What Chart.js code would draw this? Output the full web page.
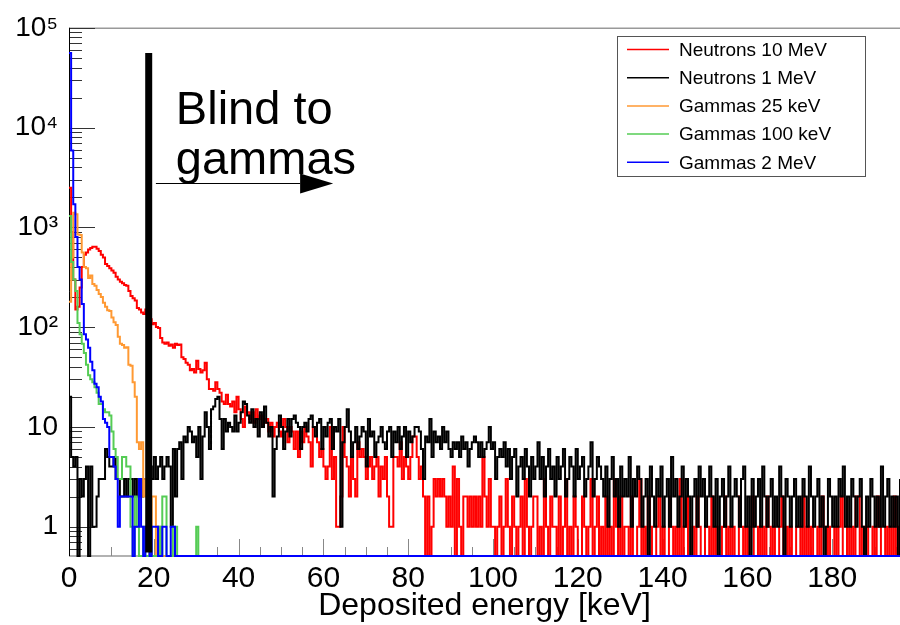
<!DOCTYPE html>
<html>
<head>
<meta charset="utf-8">
<script src="https://cdn.jsdelivr.net/npm/chart.js@4.4.1/dist/chart.umd.min.js"></script>
<style>
html,body{margin:0;padding:0;background:#fff;}
#wrap{width:900px;height:625px;position:relative;}
</style>
</head>
<body>
<div id="wrap"><canvas id="c" width="900" height="625"></canvas></div>
<script>
// ---------------- DATA ----------------
const BIN_WIDTH = 0.5;            // keV per histogram bin (bins start at 0 keV)
const X_MAX = 196;                // keV, right edge of the frame
const Y_MIN = 0.508, Y_MAX = 1e5; // counts
const xTickStep = 20;
const yTickValues = [1, 10, 100, 1000, 10000, 100000];
const yTickLabels = ['1', '10', '10²', '10³', '10⁴', '10⁵'];
const xAxisTitle = 'Deposited energy [keV]';
const seriesNames = ['Neutrons 10 MeV', 'Neutrons 1 MeV', 'Gammas 25 keV', 'Gammas 100 keV', 'Gammas 2 MeV'];
const seriesColors = ['#ff0000', '#000000', '#ff9933', '#55cc55', '#0000ff'];

const neutrons10MeV = [
 2500,900,300,150,160,250,400,530,560,600,
 620,640,640,610,580,530,500,430,410,390,
 370,350,320,300,285,275,265,260,230,205,
 195,185,155,150,140,135,150,130,120,107,
 110,100,98,78,70,68,70,65,67,62,
 68,66,67,50,48,44,42,37,38,35,
 46,38,35,37,44,30,24,24,23,28,
 24,22,18,17,21,17,16,18,14,20,
 15,12,10,16,14,12,14,11,15,12,
 13,10,11,12,9,11,8,10,11,9,
 8,12,10,7,10,9,6,9,5,
 9,7,10,8,7,4,10,10,7,5,
 6,4,3,4,10,3,5,1,1,2,
 10,5,4,2,5,3,2,7,5,6,
 5,3,4,5,3,4,5,2,4,3,
 5,2,1,1,5,5,4,7,3,5,
 4,3,5,8,8,5,3,4,2,0,
 2,0,1,3,2,3,2,3,2,1,
 2,1,4,0,3,1,0,2,2,1,
 2,1,2,1,2,1,5,2,1,3,
 1,1,0,1,
 2,0,1,3,1,0,2,1,0,1,
 2,0,3,1,0,1,2,2,0,1,
 0,3,1,0,2,1,1,0,2,0,
 1,3,0,1,0,2,1,0,0,2,
 1,0,1,3,0,1,2,0,
 1,0,2,0,1,0,3,1,0,2,0,1,1,0,2,
 0,0,1,3,0,1,0,2,1,0,0,1,2,0,1,
 0,0,2,1,0,1,0,3,0,1,2,0,0,1,0,
 2,1,0,0,1,1,0,2,0,1,0,0,1,2,0,
 1,0,1,0,0,2,1,0,1,0,1,2,0,0,1,
 0,1,0,2,1,0,1,0,0,1,2,0,1,0,1,
 0,0,1,1,0,2,0,1,0,1,0,0,1,0,2,
 1,0,1,0,0,1,0,1,2,0,0,1,0,1,0,
 2,2,0,1,0,1,0,0,1,0,2,1,0,0,1,
 0,1,0,2,0,1,1,0,2,1,0,1,0,2,0
];

const neutrons1MeV = [
 20,5,4,5,0,3,2,3,4,0,
 4,1,1,2,3,3,3,6,5,4,
 4,5,3,3,2,2,3,2,3,3,
 2,3,2,3,2,3,3,2,4,3,
 5,3,4,5,3,4,5,4,1,6,
 2,6,7,3,8,7,10,9,7,8,
 5,10,3,8,14,10,6,15,16,19,
 20,12,6,12,9,11,10,9,13,9,
 11,14,18,17,13,11,15,10,12,8,
 14,10,16,11,8,10,2,6,8,13,
 10,6,9,12,8,12,13,11,10,6,
 10,11,9,12,13,10,8,11,12,6,
 10,8,11,12,6,10,9,12,1,7,
 10,15,9,5,7,10,6,8,10,9,
 4,12,8,9,5,7,8,10,7,6,
 9,10,5,9,7,10,6,8,10,5,
 9,7,8,10,10,9,6,3,8,7,
 12,5,9,7,8,6,10,7,9,6,
 5,7,6,7,5,8,6,7,4,6,
 7,8,7,5,7,5,6,7,10,6,
 7,3,5,6,
 5,7,4,6,3,5,6,2,4,5,
 3,6,4,2,5,3,4,7,3,5,
 2,4,6,3,4,2,5,3,4,6,
 2,3,5,4,2,6,3,4,5,2,
 3,4,7,2,3,5,4,
 3,2,4,1,3,5,2,3,1,4,2,3,2,5,1,
 3,2,4,3,1,2,3,0,4,2,1,3,2,4,1,
 2,3,1,5,2,3,1,2,4,1,3,2,0,2,3,
 1,4,2,3,1,2,4,2,1,3,0,2,3,1,2,
 4,1,2,3,2,1,3,4,1,2,0,3,1,2,3,
 1,4,2,1,2,3,1,2,1,4,2,0,3,2,1,
 2,3,1,2,1,3,2,1,4,2,1,2,3,1,2,
 0,1,3,2,1,2,1,3,2,4,1,2,1,3,2,
 1,2,3,1,0,2,1,3,2,1,2,1,4,1,2,
 3,1,2,1,2,0,3,1,2,1,2,3,1,2,1
];

const gammas25keV = [
 180,500,1400,1350,850,840,560,400,390,310,
 330,270,260,235,215,200,175,160,148,145,
 125,112,105,80,68,66,62,63,42,41,
 28,20,7,6,7,2,3,1,0,2,
 2,0,1,0,0,0,0,0,0,0,
 0,0,0,0,0,0,0,0,0,0,0,0,0,0,0,0,0,0,0,0,
 0,0,0,0,0,0,0,0,0,0,0,0,0,0,0,0,0,0,0,0,
 0,0,0,0,0,0,0,0,0,0,0,0,0,0,0,0,0,0,0,0,
 0,0,0,0,0,0,0,0,0,0,0,0,0,0,0,0,0,0,0,0,
 0,0,0,0,0,0,0,0,0,0,0,0,0,0,0,0,0,0,0,0,
 0,0,0,0,0,0,0,0,0,0,0,0,0,0,0,0,0,0,0,0,
 0,0,0,0,0,0,0,0,0,0,0,0,0,0,0,0,0,0,0,0,
 0,0,0,0,0,0,0,0,0,0,0,0,0,0,0,0,0,0,0,0,
 0,0,0,0,0,0,0,0,0,0,0,0,0,0,0,0,0,0,0,0,
 0,0,0,0,0,0,0,0,0,0,0,0,0,0,0,0,0,0,0,0,
 0,0,0,0,0,0,0,0,0,0,0,0,0,0,0,0,0,0,0,0,
 0,0,0,0,0,0,0,0,0,0,0,0,0,0,0,0,0,0,0,0,
 0,0,0,0,0,0,0,0,0,0,0,0,0,0,0,0,0,0,0,0,
 0,0,0,0,0,0,0,0,0,0,0,0,0,0,0,0,0,0,0,0,
 0,0,0,0,0,0,0,0,0,0,0,0,0,0,0,0,0,0,0,0,
 0,0,0,0,0,0,0,0,0,0,0,0,0,0,0,0,0,0,0,0,
 0,0,0,0,0,0,0,0,0,0,0,0,0,0,0,0,0,0,0,0,
 0,0,0,0,0,0,0,0,0,0,0,0,0,0,0,0,0,0,0,0
];

const gammas100keV = [
 1300,450,300,230,110,85,68,55,42,33,
 30,28,25,22,17,17,15,14,14,13,
 9,6,5,3,3,5,5,4,4,1,
 0,2,1,0,0,1,0,0,1,0,
 0,0,1,0,2,2,0,0,0,1,
 1,0,0,0,0,0,0,0,0,0,
 1,0,0,0,0,0,0,0,0,0,
 0,0,0,0,0,0,0,0,0,0,0,0,0,0,0,0,0,0,0,0,
 0,0,0,0,0,0,0,0,0,0,0,0,0,0,0,0,0,0,0,0,
 0,0,0,0,0,0,0,0,0,0,0,0,0,0,0,0,0,0,0,0,
 0,0,0,0,0,0,0,0,0,0,0,0,0,0,0,0,0,0,0,0,
 0,0,0,0,0,0,0,0,0,0,0,0,0,0,0,0,0,0,0,0,
 0,0,0,0,0,0,0,0,0,0,0,0,0,0,0,0,0,0,0,0,
 0,0,0,0,0,0,0,0,0,0,0,0,0,0,0,0,0,0,0,0,
 0,0,0,0,0,0,0,0,0,0,0,0,0,0,0,0,0,0,0,0,
 0,0,0,0,0,0,0,0,0,0,0,0,0,0,0,0,0,0,0,0,
 0,0,0,0,0,0,0,0,0,0,0,0,0,0,0,0,0,0,0,0,
 0,0,0,0,0,0,0,0,0,0,0,0,0,0,0,0,0,0,0,0,
 0,0,0,0,0,0,0,0,0,0,0,0,0,0,0,0,0,0,0,0,
 0,0,0,0,0,0,0,0,0,0,0,0,0,0,0,0,0,0,0,0,
 0,0,0,0,0,0,0,0,0,0,0,0,0,0,0,0,0,0,0,0,
 0,0,0,0,0,0,0,0,0,0,0,0,0,0,0,0,0,0,0,0,
 0,0,0,0,0,0,0,0,0,0,0,0,0,0,0,0,0,0,0,0,
 0,0,0,0,0,0,0,0,0,0,0,0,0,0,0,0,0,0,0,0
];

const gammas2MeV = [
 56000,5900,1700,800,400,300,170,85,75,62,
 45,37,27,25,20,18,12,11,10,5,
 5,4,3,1,2,2,2,2,2,2,
 0,1,1,3,1,0,1,1,0,1,
 1,1,0,0,1,1,0,0,1,1,
 0,0,0,0,0,0,0,0,0,0,0,0,0,0,0,0,0,0,0,0,
 0,0,0,0,0,0,0,0,0,0,0,0,0,0,0,0,0,0,0,0,
 0,0,0,0,0,0,0,0,0,0,0,0,0,0,0,0,0,0,0,0,
 0,0,0,0,0,0,0,0,0,0,0,0,0,0,0,0,0,0,0,0,
 0,0,0,0,0,0,0,0,0,0,0,0,0,0,0,0,0,0,0,0,
 0,0,0,0,0,0,0,0,0,0,0,0,0,0,0,0,0,0,0,0,
 0,0,0,0,0,0,0,0,0,0,0,0,0,0,0,0,0,0,0,0,
 0,0,0,0,0,0,0,0,0,0,0,0,0,0,0,0,0,0,0,0,
 0,0,0,0,0,0,0,0,0,0,0,0,0,0,0,0,0,0,0,0,
 0,0,0,0,0,0,0,0,0,0,0,0,0,0,0,0,0,0,0,0,
 0,0,0,0,0,0,0,0,0,0,0,0,0,0,0,0,0,0,0,0,
 0,0,0,0,0,0,0,0,0,0,0,0,0,0,0,0,0,0,0,0,
 0,0,0,0,0,0,0,0,0,0,0,0,0,0,0,0,0,0,0,0,
 0,0,0,0,0,0,0,0,0,0,0,0,0,0,0,0,0,0,0,0,
 0,0,0,0,0,0,0,0,0,0,0,0,0,0,0,0,0,0,0,0,
 0,0,0,0,0,0,0,0,0,0,0,0,0,0,0,0,0,0,0,0,
 0,0,0,0,0,0,0,0,0,0,0,0,0,0,0,0,0,0,0,0,
 0,0,0,0,0,0,0,0,0,0,0,0,0,0,0,0,0,0,0,0
];

// Annotation (data coordinates)
const blindLineX = 18.8, blindLineY0 = 0.55, blindLineY1 = 56000;
const annotText = ['Blind to', 'gammas'];
const annotTextX = 25.2, annotTextY = [10800, 3430];
const arrowX0 = 20.5, arrowX1 = 62.3, arrowY = 2770;

// ---------------- BUILD ----------------
const FONT = "'Liberation Sans', Arial, Helvetica, sans-serif";
const seriesValues = [neutrons10MeV, neutrons1MeV, gammas25keV, gammas100keV, gammas2MeV];

function toPoints(values) {
  const pts = values.map((v, i) => ({ x: i * BIN_WIDTH, y: v > 0 ? v : Y_MIN }));
  pts.push({ x: values.length * BIN_WIDTH, y: pts[pts.length - 1].y });
  return pts;
}

const datasets = seriesNames.map((name, i) => ({
  label: name,
  data: toPoints(seriesValues[i]),
  borderColor: seriesColors[i],
  backgroundColor: seriesColors[i],
  borderWidth: 2,
  pointRadius: 0,
  stepped: 'before',
  fill: false,
  order: seriesNames.length - i,
  clip: { left: 1, top: 0, right: 0, bottom: 1 }
}));

const framePlugin = {
  id: 'frame',
  beforeDatasetsDraw(chart) {
    const { ctx, chartArea: a, scales: { x, y } } = chart;
    ctx.save();
    // top frame line
    ctx.strokeStyle = '#999'; ctx.lineWidth = 1.5;
    ctx.beginPath(); ctx.moveTo(a.left, a.top + 0.5); ctx.lineTo(a.right, a.top + 0.5); ctx.stroke();
    // bottom axis
    ctx.strokeStyle = '#999'; ctx.lineWidth = 1.5;
    ctx.beginPath(); ctx.moveTo(a.left, a.bottom); ctx.lineTo(a.right, a.bottom); ctx.stroke();
    // x ticks
    ctx.lineWidth = 1; ctx.strokeStyle = '#888';
    for (let v = 0; v <= X_MAX; v += 5) {
      const px = Math.round(x.getPixelForValue(v)) + 0.5;
      const len = (v % xTickStep === 0) ? 17 : 9;
      ctx.beginPath(); ctx.moveTo(px, a.bottom); ctx.lineTo(px, a.bottom - len); ctx.stroke();
    }
    // y ticks
    ctx.strokeStyle = '#333'; ctx.lineWidth = 1;
    for (let e = -1; e <= 5; e++) {
      for (let m = 1; m <= 9; m++) {
        const v = m * Math.pow(10, e);
        if (v < Y_MIN || v > Y_MAX * 1.0001) continue;
        const py = Math.round(y.getPixelForValue(v)) + 0.5;
        const len = m === 1 ? 26 : 13;
        ctx.beginPath(); ctx.moveTo(a.left, py); ctx.lineTo(a.left + len, py); ctx.stroke();
      }
    }
    // left axis
    ctx.strokeStyle = '#000'; ctx.lineWidth = 1;
    ctx.beginPath(); ctx.moveTo(a.left + 0.5, a.top); ctx.lineTo(a.left + 0.5, a.bottom); ctx.stroke();
    ctx.restore();
  }
};

const annotPlugin = {
  id: 'annot',
  afterDatasetsDraw(chart) {
    const { ctx, scales: { x, y } } = chart;
    ctx.save();
    // thick vertical line
    ctx.strokeStyle = '#000'; ctx.lineWidth = 7;
    const lx = x.getPixelForValue(blindLineX);
    ctx.beginPath(); ctx.moveTo(lx, y.getPixelForValue(blindLineY0)); ctx.lineTo(lx, y.getPixelForValue(blindLineY1)); ctx.stroke();
    // text
    ctx.fillStyle = '#000';
    ctx.font = '47px ' + FONT;
    ctx.textAlign = 'left'; ctx.textBaseline = 'alphabetic';
    annotText.forEach((t, i) => ctx.fillText(t, x.getPixelForValue(annotTextX), y.getPixelForValue(annotTextY[i])));
    // arrow
    const ax0 = x.getPixelForValue(arrowX0), ax1 = x.getPixelForValue(arrowX1), ay = Math.round(y.getPixelForValue(arrowY)) + 0.5;
    const head = 33, half = 10;
    ctx.lineWidth = 1;
    ctx.beginPath(); ctx.moveTo(ax0, ay); ctx.lineTo(ax1 - head, ay); ctx.stroke();
    ctx.beginPath(); ctx.moveTo(ax1 - head, ay - half); ctx.lineTo(ax1, ay); ctx.lineTo(ax1 - head, ay + half); ctx.closePath(); ctx.fill();
    ctx.restore();
  },
  afterDraw(chart) {
    // legend box
    const { ctx } = chart;
    const bx = 617.5, by = 36.5, bw = 248, bh = 140;
    ctx.save();
    ctx.fillStyle = '#fff'; ctx.fillRect(bx, by, bw, bh);
    ctx.strokeStyle = '#555'; ctx.lineWidth = 1; ctx.strokeRect(bx, by, bw, bh);
    ctx.font = '19px ' + FONT; ctx.textBaseline = 'middle'; ctx.textAlign = 'left';
    chart.data.datasets.forEach((ds, i) => {
      const cy = 49.5 + i * 28.2;
      ctx.strokeStyle = ds.borderColor; ctx.lineWidth = 1.5;
      ctx.beginPath(); ctx.moveTo(627, cy); ctx.lineTo(669, cy); ctx.stroke();
      ctx.fillStyle = '#000'; ctx.fillText(ds.label, 679, cy + 1);
    });
    ctx.restore();
  }
};

new Chart(document.getElementById('c'), {
  type: 'line',
  data: { datasets },
  options: {
    responsive: false,
    animation: false,
    layout: { padding: { top: 25, right: 0, bottom: 0, left: 0 } },
    plugins: { legend: { display: false }, tooltip: { enabled: false } },
    scales: {
      x: {
        type: 'linear', min: 0, max: X_MAX,
        grid: { display: false, drawTicks: false }, border: { display: false },
        ticks: { stepSize: xTickStep, includeBounds: false, autoSkip: false, maxRotation: 0,
                 color: '#000', padding: 5, font: { family: FONT, size: 30 } },
        title: { display: true, text: xAxisTitle, color: '#000', font: { family: FONT, size: 32 }, padding: { top: 0, bottom: 0 } },
        afterFit(s) { s.height = 69; }
      },
      y: {
        type: 'logarithmic', min: Y_MIN, max: Y_MAX,
        grid: { display: false, drawTicks: false }, border: { display: false },
        afterBuildTicks(s) { s.ticks = yTickValues.map(v => ({ value: v })); },
        ticks: { autoSkip: false, color: '#000', padding: 11, font: { family: FONT, size: 28 },
                 callback(v) { const k = yTickValues.indexOf(v); return k >= 0 ? yTickLabels[k] : ''; } },
        afterFit(s) { s.width = 69; }
      }
    }
  },
  plugins: [framePlugin, annotPlugin]
});
</script>
</body>
</html>
